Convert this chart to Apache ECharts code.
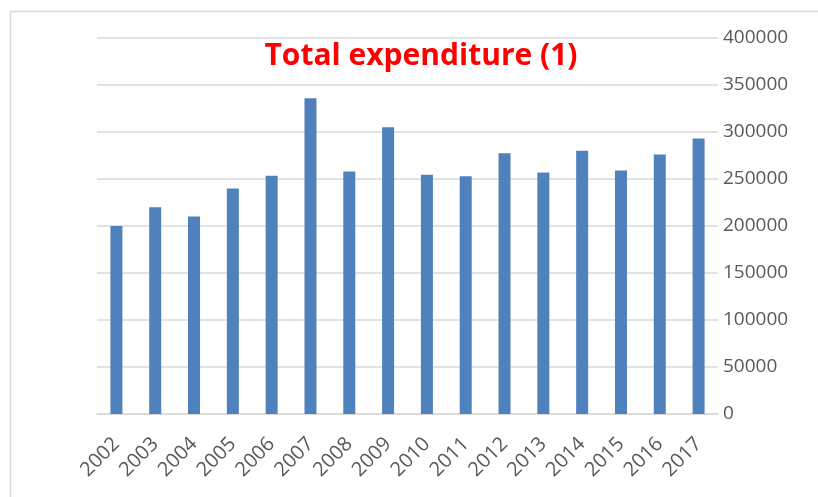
<!DOCTYPE html>
<html>
<head>
<meta charset="utf-8">
<script src="https://cdn.jsdelivr.net/npm/echarts@6/dist/echarts.min.js"></script>
<style>html,body{margin:0;padding:0;background:#fff;}#c{width:818px;height:497px;}</style>
</head>
<body>
<div id="c"></div>
<script>
const years = ['2002','2003','2004','2005','2006','2007','2008','2009','2010','2011','2012','2013','2014','2015','2016','2017'];
const expenditure = [200000, 220000, 210000, 240000, 253500, 336000, 258000, 305000, 254500, 253000, 277500, 257000, 280000, 259000, 276000, 293000];
const yTicks = [0, 50000, 100000, 150000, 200000, 250000, 300000, 350000, 400000];

const chart = echarts.init(document.getElementById('c'), null, {renderer: 'canvas'});
chart.setOption({
  animation: false,
  backgroundColor: '#fff',
  graphic: [{
    type: 'rect', left: 8, top: 9, silent: true, z: -1,
    shape: {x: 0, y: 0, width: 830, height: 510},
    style: {fill: 'none', stroke: '#d9d9d9', lineWidth: 1.5}
  }],
  title: {
    text: 'Total expenditure (1)',
    left: 416, top: 36, textAlign: 'center',
    textStyle: {color: '#ff0000', fontSize: 30, fontWeight: 'bold', fontFamily: 'Open Sans'}
  },
  grid: {left: 97, right: 100, top: 38, bottom: 83, containLabel: false},
  xAxis: {
    type: 'category', data: years,
    axisLine: {lineStyle: {color: '#d9d9d9', width: 1.5}},
    axisTick: {show: false},
    axisLabel: {rotate: 45, color: '#595959', fontSize: 20, fontFamily: 'Open Sans', margin: 27, interval: 0}
  },
  yAxis: {
    type: 'value', position: 'right', min: yTicks[0], max: yTicks[yTicks.length-1], interval: 50000,
    axisLine: {show: false}, axisTick: {show: false},
    splitLine: {lineStyle: {color: '#d9d9d9', width: 1.5}},
    axisLabel: {color: '#595959', fontSize: 19, fontFamily: 'Open Sans', margin: 5, formatter: v => String(v)}
  },
  series: [{
    type: 'bar', data: expenditure, barWidth: 12,
    itemStyle: {color: '#4f81bd'}
  }]
});
</script>
</body>
</html>
